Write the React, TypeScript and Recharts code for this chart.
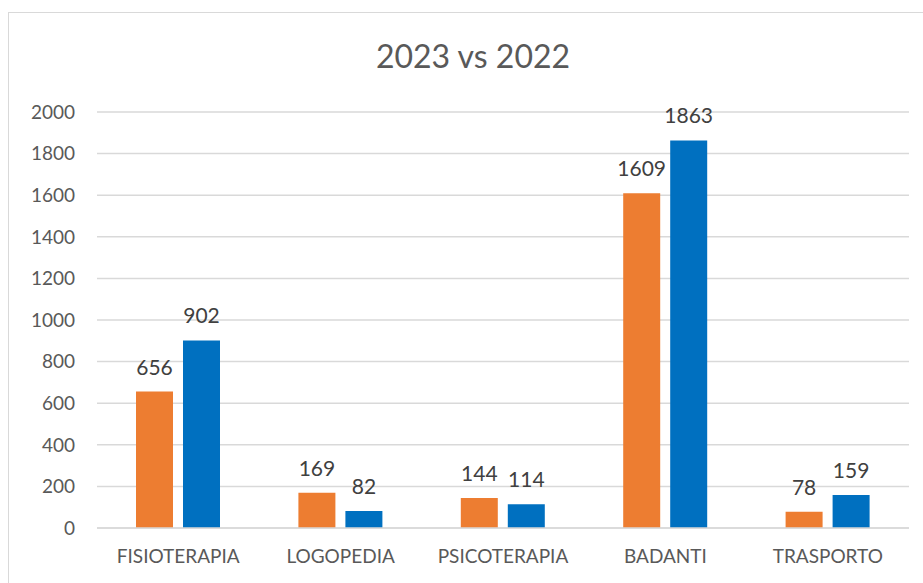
import { BarChart, Bar, XAxis, YAxis, CartesianGrid, LabelList } from "recharts";

const categories = ["FISIOTERAPIA", "LOGOPEDIA", "PSICOTERAPIA", "BADANTI", "TRASPORTO"];
const values2023 = [656, 169, 144, 1609, 78];
const values2022 = [902, 82, 114, 1863, 159];
const yTicks = [0, 200, 400, 600, 800, 1000, 1200, 1400, 1600, 1800, 2000];

const data = categories.map((name, i) => ({
  name,
  a: values2023[i],
  b: values2022[i],
}));

const FONT = "Lato, 'Open Sans', sans-serif";

export default function App() {
  return (
    <div
      style={{
        position: "absolute",
        left: 0,
        top: 0,
        width: 923,
        height: 583,
        overflow: "hidden",
        background: "#fff",
        fontFamily: FONT,
      }}
    >
      <div
        style={{
          position: "absolute",
          left: 8,
          top: 12,
          width: 1000,
          height: 1000,
          border: "1px solid #d9d9d9",
        }}
      />
      <div
        style={{
          position: "absolute",
          left: 0,
          top: 36,
          width: 946,
          textAlign: "center",
          fontSize: 32,
          color: "#595959",
        }}
      >
        2023 vs 2022
      </div>
      <div style={{ position: "absolute", left: 0, top: 0 }}>
        <BarChart
          width={923}
          height={583}
          data={data}
          margin={{ top: 112, right: 14, bottom: 25, left: 0 }}
          barSize={37}
          barGap={10}
        >
          <CartesianGrid vertical={false} stroke="#d9d9d9" strokeWidth={1.5} />
          <XAxis
            dataKey="name"
            height={30}
            axisLine={{ stroke: "#d9d9d9", strokeWidth: 1.5 }}
            tickLine={false}
            tickSize={0}
            tickMargin={22}
            tick={{ fill: "#595959", fontSize: 19, fontFamily: FONT }}
          />
          <YAxis
            width={97}
            domain={[0, 2000]}
            ticks={yTicks}
            axisLine={false}
            tickLine={false}
            tickSize={0}
            tickMargin={22}
            tick={{ fill: "#595959", fontSize: 19, fontFamily: FONT }}
          />
          <Bar dataKey="a" fill="#ED7D31" isAnimationActive={false}>
            <LabelList dataKey="a" position="top" offset={17} fill="#404040" fontSize={21} fontFamily={FONT} />
          </Bar>
          <Bar dataKey="b" fill="#0070C0" isAnimationActive={false}>
            <LabelList dataKey="b" position="top" offset={17} fill="#404040" fontSize={21} fontFamily={FONT} />
          </Bar>
        </BarChart>
      </div>
    </div>
  );
}
